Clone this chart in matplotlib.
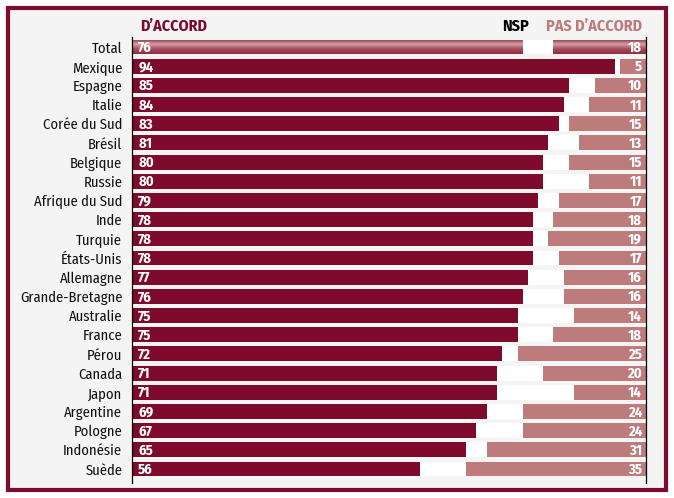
import numpy as np
import matplotlib.pyplot as plt
from matplotlib.colors import LinearSegmentedColormap
from matplotlib.patches import Rectangle

#======data=========#
pays = ["Total", "Mexique", "Espagne", "Italie", "Corée du Sud", "Brésil", "Belgique",
        "Russie", "Afrique du Sud", "Inde", "Turquie", "États-Unis", "Allemagne",
        "Grande-Bretagne", "Australie", "France", "Pérou", "Canada", "Japon",
        "Argentine", "Pologne", "Indonésie", "Suède"]
accord = [76, 94, 85, 84, 83, 81, 80, 80, 79, 78, 78, 78, 77, 76, 75, 75, 72, 71, 71, 69, 67, 65, 56]
pas_accord = [18, 5, 10, 11, 15, 13, 15, 11, 17, 18, 19, 17, 16, 16, 14, 18, 25, 20, 14, 24, 24, 31, 35]

#=====style==========#
dark = "#7e0b2b"
light = "#bd7b7b"
bg = "#f4f4f4"
plt.rcParams['font.family'] = ['Fira Sans Condensed', 'DejaVu Sans']

fig = plt.figure(figsize=(6.74, 4.98), dpi=100)
fig.patch.set_facecolor("white")
fig.patches.append(Rectangle((8/674, 8/498), 658/674, 482/498, transform=fig.transFigure,
                             facecolor=bg, edgecolor=dark, linewidth=3, zorder=-10))

ax = fig.add_axes([132/674, 1-483.4/498, 514/674, 446/498], zorder=2)
ax.set_facecolor("none")
y = np.arange(len(pays))
h = 0.78
nsp = [100 - a - p for a, p in zip(accord, pas_accord)]

b1 = ax.barh(y, accord, height=h, color=dark, zorder=2)
ax.barh(y, nsp, left=accord, height=h, color="white", zorder=2)
b3 = ax.barh(y, pas_accord, left=[100 - p for p in pas_accord], height=h, color=light, zorder=2)

# gradient look on the "Total" row
cmap = LinearSegmentedColormap.from_list("g", ["#8e3244", "#d4a0a8", "#a84c5a", "#8a2e40"])
grad = np.linspace(0, 1, 64).reshape(-1, 1)
for patch in (b1[0], b3[0]):
    bb = patch.get_bbox()
    patch.set_alpha(0)
    im = ax.imshow(grad, extent=[bb.x0, bb.x1, bb.y1, bb.y0], cmap=cmap, aspect="auto",
                   origin="upper", zorder=3)
    im.set_clip_path(Rectangle((bb.x0, bb.y0), bb.width, bb.height, transform=ax.transData))

for i in range(len(pays)):
    ax.text(1.2, y[i] + 0.05, str(accord[i]), color="white", fontsize=10.5, fontweight="bold",
            va="center", ha="left", zorder=4)
    ax.text(99.2, y[i] + 0.05, str(pas_accord[i]), color="white", fontsize=10.5, fontweight="bold",
            va="center", ha="right", zorder=4)

ax.set_xlim(0, 100)
ax.set_ylim(22.75, -0.5)
ax.set_yticks(y)
ax.set_yticklabels(pays, fontsize=10.5, color="#111111")
ax.tick_params(axis="y", length=0, pad=7)
ax.set_xticks([])
for s in ["top", "bottom"]:
    ax.spines[s].set_visible(False)
for s in ["left", "right"]:
    ax.spines[s].set_linewidth(0.9)
    ax.spines[s].set_zorder(5)

fig.text(140/674, 1-26/498, "D\u2019ACCORD", color=dark, fontsize=11.5, fontweight="bold", va="center")
fig.text(529/674, 1-26/498, "NSP", color="black", fontsize=11.5, fontweight="bold", va="center", ha="right")
fig.text(642/674, 1-26/498, "PAS D\u2019ACCORD", color=light, fontsize=11.5, fontweight="bold", va="center", ha="right")

plt.savefig("out.png", dpi=100)
